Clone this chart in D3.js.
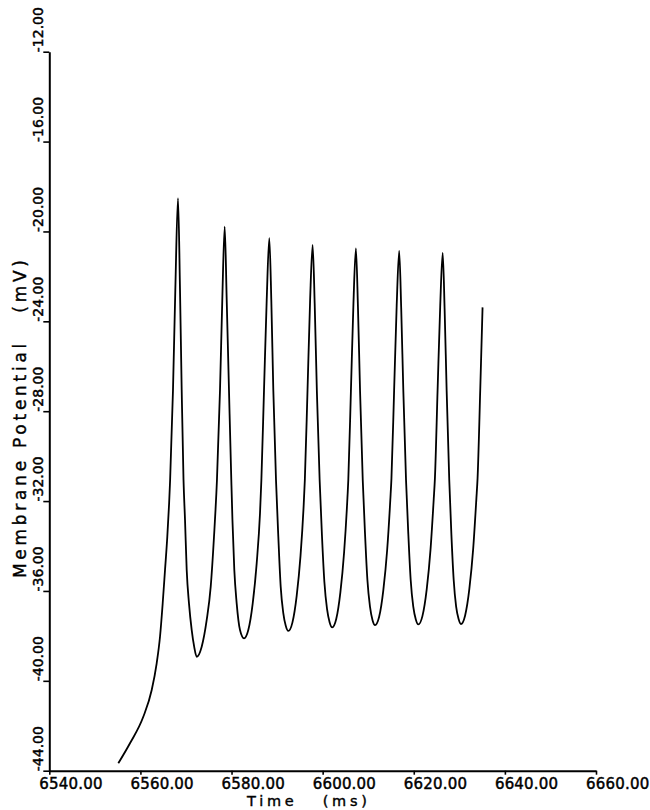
<!DOCTYPE html>
<html>
<head>
<meta charset="utf-8">
<script src="https://cdn.jsdelivr.net/npm/d3@7"></script>
<style>
  html, body { margin: 0; padding: 0; background: #fff; }
  svg { display: block; }
</style>
</head>
<body>
<svg id="chart" width="650" height="810"></svg>
<script>
// ---- data ----
const timeMs = [
  6555.15, 6557.71, 6560.63, 6562.48, 6563.57, 6564.30, 6564.89, 6565.40, 6565.90, 6566.30,
  6566.52, 6567.15, 6567.66, 6568.25,
  6568.69, 6569.06, 6569.46, 6569.79, 6570.16, 6570.66, 6571.26, 6571.80, 6572.35,
  6573.45, 6574.55, 6575.43, 6576.15, 6576.80, 6577.47, 6577.97, 6578.50,
  6578.94, 6579.44, 6579.95, 6580.20, 6580.61, 6581.13, 6581.86, 6582.74,
  6583.68, 6584.65, 6585.52, 6586.25, 6586.55, 6587.13, 6587.72, 6588.29,
  6588.73, 6589.17, 6589.76, 6590.27, 6590.79, 6591.36, 6591.90, 6592.46,
  6593.36, 6594.30, 6595.14, 6595.83, 6596.09, 6596.68, 6597.25, 6597.80,
  6598.25, 6598.73, 6599.34, 6599.84, 6600.38, 6600.96, 6601.54, 6602.10,
  6602.98, 6603.89, 6604.71, 6605.39, 6605.63, 6606.21, 6606.76, 6607.30,
  6607.74, 6608.21, 6608.80, 6609.30, 6609.82, 6610.39, 6610.95, 6611.50,
  6612.40, 6613.32, 6614.16, 6614.85, 6615.10, 6615.69, 6616.25, 6616.80,
  6617.24, 6617.71, 6618.30, 6618.80, 6619.32, 6619.89, 6620.45, 6621.00,
  6621.90, 6622.84, 6623.68, 6624.38, 6624.64, 6625.23, 6625.80, 6626.35,
  6626.77, 6627.22, 6627.79, 6628.25, 6628.76, 6629.30, 6629.84, 6630.36,
  6631.26, 6632.20, 6633.04, 6633.74, 6634.00, 6634.59, 6635.10
];
const potentialMv = [
  -43.67, -42.78, -41.60, -40.41, -39.22, -38.04, -36.55, -35.07, -33.59, -32.10,
  -31.06, -27.06, -22.61, -18.52,
  -22.61, -27.06, -31.06, -32.84, -35.07, -36.55, -37.74, -38.48, -38.93,
  -38.48, -37.29, -35.81, -33.59, -31.06, -27.06, -23.05, -19.79,
  -23.05, -27.06, -31.06, -32.84, -35.07, -36.55, -37.74, -38.11,
  -37.74, -36.55, -34.77, -32.54, -31.06, -27.06, -23.05, -20.30,
  -23.05, -27.06, -31.06, -33.59, -35.81, -36.99, -37.55, -37.78,
  -37.41, -36.22, -34.44, -32.21, -31.06, -27.06, -23.05, -20.60,
  -23.20, -27.10, -31.06, -33.50, -35.60, -36.80, -37.40, -37.62,
  -37.25, -36.06, -34.28, -32.05, -31.06, -27.06, -23.20, -20.75,
  -23.30, -27.10, -31.06, -33.45, -35.50, -36.70, -37.30, -37.52,
  -37.15, -35.96, -34.18, -31.95, -31.00, -27.06, -23.30, -20.87,
  -23.40, -27.10, -31.06, -33.45, -35.50, -36.70, -37.27, -37.49,
  -37.12, -35.93, -34.15, -31.92, -31.00, -27.06, -23.35, -20.95,
  -23.45, -27.10, -31.06, -33.45, -35.50, -36.70, -37.25, -37.47,
  -37.10, -35.91, -34.13, -31.90, -31.00, -27.06, -23.38
];
const xTickValues = [6540, 6560, 6580, 6600, 6620, 6640, 6660];
const yTickValues = [-44, -40, -36, -32, -28, -24, -20, -16, -12];
const xDomain = [6540, 6660];
const yDomain = [-44, -12];
const xTitle = "Time   (ms)";
const yTitle = "Membrane Potential   (mV)";

// ---- drawing ----
const svg = d3.select("#chart");
const plotLeft = 49.3, plotRight = 596, plotTop = 51.7, plotBottom = 770.7;

const x = d3.scaleLinear().domain(xDomain).range([plotLeft, plotRight]);
const y = d3.scaleLinear().domain(yDomain).range([plotBottom, plotTop]);

const points = timeMs.map((t, i) => ({ t, v: potentialMv[i] }));

const fmt = d => d.toFixed(2);
const fontFamily = "'DejaVu Sans', sans-serif";

// Y axis
const yAxisG = svg.append("g")
  .attr("transform", `translate(${plotLeft},0)`)
  .call(d3.axisLeft(y).tickValues(yTickValues).tickSize(6).tickSizeOuter(0).tickFormat(fmt));
yAxisG.select(".domain").attr("stroke", "#000").attr("stroke-width", 2);
yAxisG.selectAll(".tick line").attr("stroke", "#000").attr("stroke-width", 1.6);
yAxisG.selectAll(".tick text")
  .attr("transform", "rotate(-90)")
  .attr("x", 0).attr("y", -6.5).attr("dy", null)
  .attr("text-anchor", "start")
  .attr("fill", "#000")
  .attr("stroke", "#000").attr("stroke-width", 0.45)
  .style("font-family", fontFamily)
  .style("font-size", "14px");

// X axis
const xAxisG = svg.append("g")
  .attr("transform", `translate(0,${plotBottom})`)
  .call(d3.axisBottom(x).tickValues(xTickValues).tickSize(4).tickSizeOuter(0).tickFormat(fmt));
xAxisG.select(".domain").attr("stroke", "#000").attr("stroke-width", 2);
xAxisG.selectAll(".tick line").attr("stroke", "#000").attr("stroke-width", 1.6);
xAxisG.selectAll(".tick text")
  .attr("x", -10.5).attr("y", 18).attr("dy", null)
  .attr("text-anchor", "start")
  .attr("fill", "#000")
  .attr("stroke", "#000").attr("stroke-width", 0.45)
  .style("font-family", fontFamily)
  .style("font-size", "15px")
  .style("letter-spacing", "0.2px");

// Curve
const line = d3.line()
  .x(d => x(d.t))
  .y(d => y(d.v))
  .curve(d3.curveMonotoneX);

svg.append("path")
  .datum(points)
  .attr("fill", "none")
  .attr("stroke", "#000")
  .attr("stroke-width", 1.8)
  .attr("stroke-linejoin", "round")
  .attr("d", line);

// Axis titles
svg.append("text")
  .attr("x", 247).attr("y", 806)
  .attr("textLength", 120).attr("lengthAdjust", "spacing")
  .attr("fill", "#000")
  .attr("stroke", "#000").attr("stroke-width", 0.4)
  .style("font-family", fontFamily)
  .style("font-size", "14.5px")
  .style("white-space", "pre")
  .text(xTitle);

svg.append("text")
  .attr("transform", "translate(26,578) rotate(-90)")
  .attr("x", 0).attr("y", 0)
  .attr("textLength", 318).attr("lengthAdjust", "spacing")
  .attr("fill", "#000")
  .attr("stroke", "#000").attr("stroke-width", 0.4)
  .style("font-family", fontFamily)
  .style("font-size", "17px")
  .style("white-space", "pre")
  .text(yTitle);
</script>
</body>
</html>
